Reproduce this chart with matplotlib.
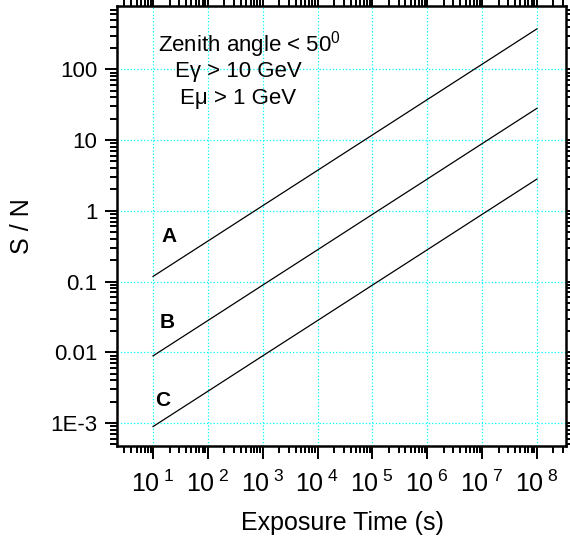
import matplotlib
matplotlib.use("Agg")
import matplotlib.pyplot as plt
from matplotlib.ticker import FixedLocator, FixedFormatter, LogLocator, NullFormatter

plt.rcParams['font.family'] = ['Liberation Sans', 'DejaVu Sans']
plt.rcParams['mathtext.fontset'] = 'custom'
plt.rcParams['mathtext.rm'] = 'Liberation Sans'
plt.rcParams['mathtext.it'] = 'Liberation Sans:italic'

# data
exposure_time = [1e1, 1e2, 1e3, 1e4, 1e5, 1e6, 1e7, 1e8]
sn_A = [0.118, 0.373, 1.18, 3.73, 11.8, 37.3, 118, 373]
sn_B = [0.0089, 0.0281, 0.089, 0.281, 0.89, 2.81, 8.9, 28.1]
sn_C = [0.00089, 0.00281, 0.0089, 0.0281, 0.089, 0.281, 0.89, 2.81]
curve_labels = ["A", "B", "C"]
ytick_vals = [1e-3, 1e-2, 1e-1, 1, 10, 100]
ytick_labels = ["1E-3", "0.01", "0.1", "1", "10", "100"]
xtick_vals = [1e1, 1e2, 1e3, 1e4, 1e5, 1e6, 1e7, 1e8]
xtick_labels = [r"$10^{\ %d}$" % i for i in range(1, 9)]

fig = plt.figure(figsize=(5.7, 5.41), dpi=100)
ax = fig.add_axes([117/570, 1-446/541, (566-117)/570, (446-6)/541])

for y in (sn_A, sn_B, sn_C):
    ax.plot(exposure_time, y, color='black', lw=0.9)

ax.set_xscale('log')
ax.set_yscale('log')
ax.set_xlim(10**0.343, 10**8.53)
ax.set_ylim(10**-3.325, 10**2.895)

ax.xaxis.set_major_locator(FixedLocator(xtick_vals))
ax.xaxis.set_major_formatter(FixedFormatter(xtick_labels))
ax.yaxis.set_major_locator(FixedLocator(ytick_vals))
ax.yaxis.set_major_formatter(FixedFormatter(ytick_labels))
ax.xaxis.set_minor_locator(LogLocator(base=10, subs=range(2, 10), numticks=20))
ax.yaxis.set_minor_locator(LogLocator(base=10, subs=range(2, 10), numticks=20))
ax.xaxis.set_minor_formatter(NullFormatter())
ax.yaxis.set_minor_formatter(NullFormatter())

ax.tick_params(which='both', direction='out', top=True, right=True, width=1.4)
ax.tick_params(which='major', length=9)
ax.tick_params(which='minor', length=5)
ax.tick_params(axis='y', which='major', labelsize=16, pad=5)
ax.tick_params(axis='x', which='major', labelsize=18, pad=9)
for s in ax.spines.values():
    s.set_linewidth(1.8)

ax.grid(True, which='major', color='#00ffff', linestyle=':', linewidth=0.9)

ax.set_xlabel("Exposure Time (s)", fontsize=18)
ax.set_ylabel("S / N", fontsize=18)
ax.xaxis.set_label_coords((342 - 117) / 449, -(511 - 446) / 440)
ax.yaxis.set_label_coords(-(117 - 34) / 449, 0.5)

# curve labels
ax.text(19.5, 0.43, curve_labels[0], fontsize=15, fontweight='bold', ha='center', va='center')
ax.text(17.8, 0.026, curve_labels[1], fontsize=15, fontweight='bold', ha='center', va='center')
ax.text(15.2, 0.0021, curve_labels[2], fontsize=15, fontweight='bold', ha='center', va='center')

ax.text(249/570, 1-45/541, r"Zenith angle < 50$^{0}$", transform=fig.transFigure,
        fontsize=16, ha='center', va='center')
ax.text(238/570, 1-71.5/541, "Eγ > 10 GeV", transform=fig.transFigure,
        fontsize=16, ha='center', va='center')
ax.text(238/570, 1-98.5/541, "Eμ > 1 GeV", transform=fig.transFigure,
        fontsize=16, ha='center', va='center')

fig.savefig("out.png", dpi=100)
